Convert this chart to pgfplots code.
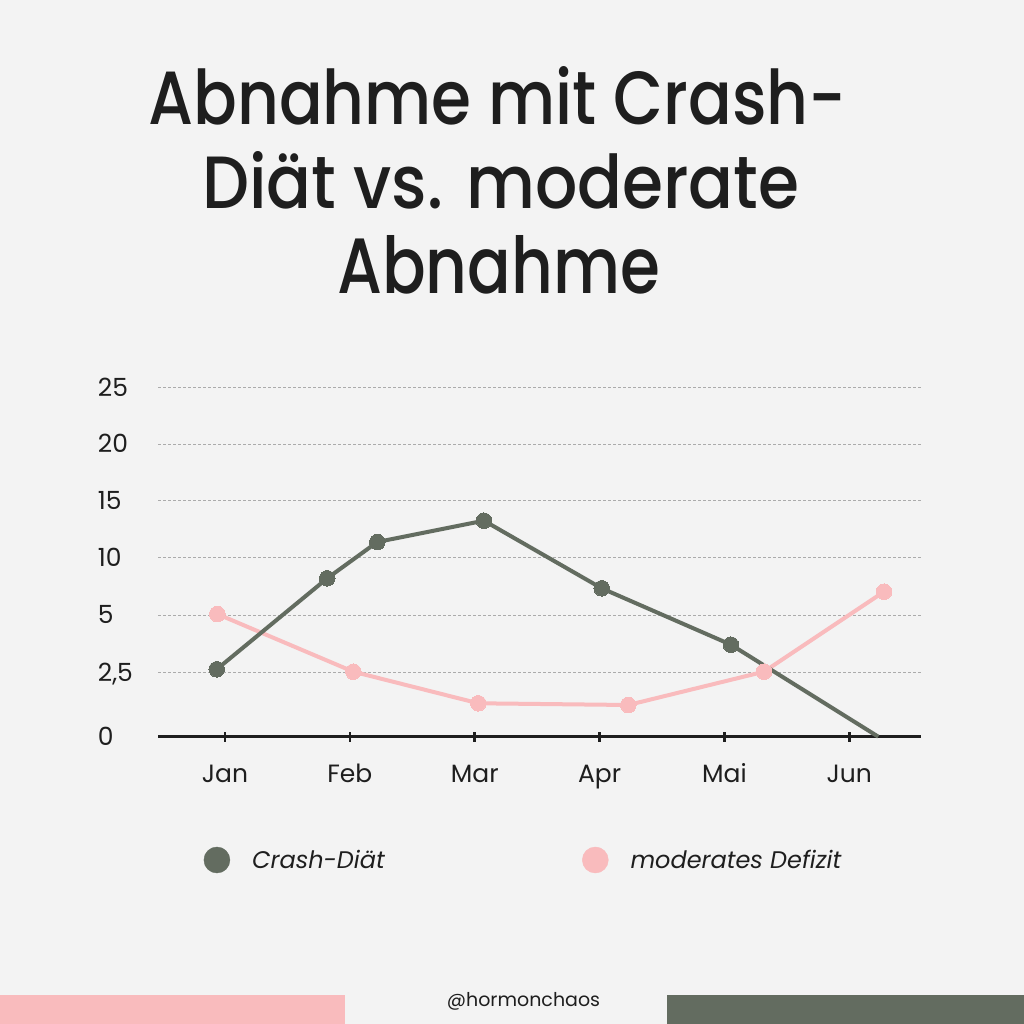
\documentclass[border=0pt]{standalone}
\usepackage{fontspec}
\setmainfont{Poppins}
\newfontfamily\titlefont{Poppins Medium}
\usepackage{graphicx}
\usepackage{pgfplots}
\usepackage{pgfplotstable}
\pgfplotsset{compat=1.18}
\definecolor{bg}{HTML}{F3F3F3}
\definecolor{cgreen}{HTML}{636C60}
\definecolor{cpink}{HTML}{F9BBBD}
\definecolor{ctext}{HTML}{1E1E1E}
\definecolor{cgrid}{HTML}{ABABAB}

% x: month position (0 = Jan ... 5 = Jun), y: height on the chart's label scale
\pgfplotstableread{
x y
-0.066 67.4
0.819 158.4
1.220 194.7
2.074 216.0
3.017 148.4
4.052 92.0
5.232 0
}\crash
\pgfplotstableread{
x y
-0.062 122.7
1.028 65.0
2.029 33.4
3.230 31.7
4.317 65.0
5.278 145.0
}\moderat

\begin{document}
\begin{tikzpicture}
\useasboundingbox (0,0) rectangle (1024pt,1024pt);
\fill[bg] (0,0) rectangle (1024pt,1024pt);
\fill[cpink] (0,0) rectangle (345pt,29pt);
\fill[cgreen] (667pt,0) rectangle (1024pt,29pt);
\node[anchor=base, inner sep=0pt, font=\fontsize{19}{22}\selectfont, text=ctext] at (523.5pt,17.3pt) {@hormonchaos};
\node[anchor=base west, inner sep=0pt, text=ctext] at (148pt,899pt) {\resizebox{698pt}{58pt}{\titlefont Abnahme mit Crash-}};
\node[anchor=base west, inner sep=0pt, text=ctext] at (202pt,815pt) {\resizebox{597pt}{57pt}{\titlefont Diät vs. moderate}};
\node[anchor=base west, inner sep=0pt, text=ctext] at (337pt,730pt) {\resizebox{323pt}{58pt}{\titlefont Abnahme}};
\begin{axis}[
  at={(158.3pt,287.3pt)}, anchor=south west,
  scale only axis, width=762.4pt, height=349.4pt,
  xmin=-0.534, xmax=5.572, ymin=0, ymax=349.4,
  axis x line*=bottom, axis y line*=left,
  y axis line style={draw=none},
  x axis line style={line width=3.5pt, color=ctext},
  xtick={0,...,5}, xticklabels={Jan,Feb,Mar,Apr,Mai,Jun},
  ytick={0,64.4,121.7,179,236,292.7,349.4},
  yticklabels={0,{2,5},5,10,15,20,25},
  ymajorgrids,
  major grid style={color=cgrid, line width=0.9pt, dash pattern=on 3pt off 2pt},
  xtick style={line width=2.5pt, color=ctext},
  major tick length=10pt, tick align=center,
  ytick style={draw=none},
  ticklabel style={font=\fontsize{25}{29}\selectfont, text=ctext, inner sep=0pt},
  xticklabel style={anchor=base, yshift=-41.3pt},
  yticklabel style={anchor=base west, xshift=-55.6pt, yshift=-8.8pt},
  clip=false,
  legend columns=2,
  legend style={at={(0.0593,-0.3529)}, anchor=west, draw=none, fill=none,
    inner sep=0pt, font=\itshape\fontsize{24}{28}\selectfont, text=ctext,
    nodes={inner sep=0pt}, cells={anchor=west},
    /tikz/every odd column/.append style={column sep=22pt}},
  legend image code/.code={\fill[#1] (0pt,0pt) circle (13pt);},
]
\addlegendimage{color=cgreen}
\addlegendentry{\makebox[330pt][l]{Crash-Diät}}
\addlegendimage{color=cpink}
\addlegendentry{moderates Defizit}
\addplot[color=cpink, line width=4pt, line join=round, mark=*, mark size=7.8pt,
  mark options={line width=0pt}, forget plot] table {\moderat};
\addplot[color=cgreen, line width=4pt, line join=round, mark=*, mark size=7.8pt,
  mark options={line width=0pt}, mark indices={1,2,3,4,5,6}, forget plot] table {\crash};
\end{axis}
\end{tikzpicture}
\end{document}
